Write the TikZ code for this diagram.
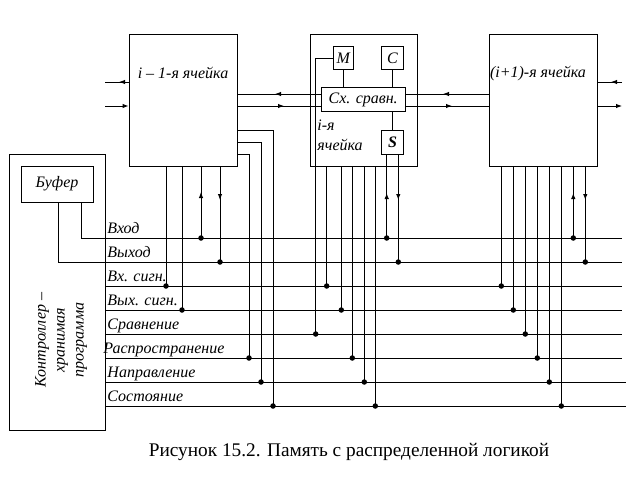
\documentclass[tikz,border=0pt]{standalone}
\usepackage{fontspec}
\setmainfont{Liberation Serif}
\usetikzlibrary{arrows.meta}
\begin{document}
\begin{tikzpicture}[x=1pt,y=-1pt, line width=0.9pt,
  box/.style={draw, rectangle, inner sep=0pt},
  lab/.style={font=\fontsize{16}{20}\selectfont\itshape, inner sep=0pt},
  dot/.style={circle, fill, inner sep=0pt, minimum size=5.5pt},
  tip/.style={-{Latex[length=6pt,width=4.5pt]}}
]
\useasboundingbox (0,0) rectangle (637,477);
% boxes
\node[box, minimum width=96pt, minimum height=276pt] (ctrl) at (57,292) {};
\node[box, lab, minimum width=72pt, minimum height=36pt] (buf) at (57,184) {Буфер};
\node[box, minimum width=108pt, minimum height=132pt] (c1) at (183,100) {};
\node[box, minimum width=107pt, minimum height=132pt] (c2) at (363.5,100) {};
\node[box, minimum width=108pt, minimum height=132pt] (c3) at (543,100) {};
\node[box, lab, minimum width=20pt, minimum height=22.6pt] (M) at (343.3,58) {M};
\node[box, lab, minimum width=21.6pt, minimum height=22.6pt] (C) at (392.5,58) {C};
\node[box, lab, minimum width=84.3pt, minimum height=24.4pt] (cmp) at (363.2,99.5) {Сх. сравн.};
\node[box, lab, minimum width=21.6pt, minimum height=23.3pt] (S) at (392.5,142.3) {\bfseries S};
% labels
\node[lab] (t1) at (183,73) {i – 1-я ячейка};
\node[lab] (t3) at (538,74) {(i+1)-я ячейка};
\node[lab, align=left, anchor=north west] (t2) at (317,119) {i-я\\ячейка};
\node[lab, rotate=90, align=center, font=\fontsize{16}{19}\selectfont\itshape] (ctext) at (61,340) {Контроллер –\\хранимая\\программа};
\node[font=\fontsize{19.3}{23}\selectfont] (cap) at (349,452) {Рисунок 15.2. Память с распределенной логикой};
% bus lines
\foreach \y/\e/\lx/\t in {238/622/107/Вход, 262/622/107/Выход, 286/622/107/Вх. сигн., 310/622/107/Вых. сигн., 334/622/107/Сравнение, 358/622/103/Распространение, 382/626/107/Направление, 406/626/107/Состояние}{
  \draw (ctrl.east |- 0,\y) -- (\e,\y);
  \node[lab, anchor=base west] at (\lx,\y-5) {\t};
}
% buffer connections
\draw (buf.south -| 81,0) |- (ctrl.east |- 0,238);
\draw (buf.south -| 58,0) |- (ctrl.east |- 0,262);
% cell i-1 taps
\foreach \x/\y in {166/286, 182/310, 201/238, 220/262}
  \draw (c1.south -| \x,0) -- (\x,\y) node[dot]{};
\foreach \yy/\x/\y in {154/249/358, 142/261/382, 130/273/406}
  \draw (c1.east |- 0,\yy) -| (\x,\y) node[dot]{};
\draw[tip] (201,238) -- (201,192);
\draw[tip] (220,166) -- (220,200);
% cell i taps
\draw (M.west) -| (315.7,334) node[dot]{};
\foreach \x/\y in {326.7/286, 341.3/310, 352.3/358, 364.3/382, 375.3/406}
  \draw (c2.south -| \x,0) -- (\x,\y) node[dot]{};
\draw (S.south -| 386.7,0) -- (386.7,238) node[dot]{};
\draw (S.south -| 398.3,0) -- (398.3,262) node[dot]{};
\draw[tip] (386.7,238) -- (386.7,193);
\draw[tip] (398.3,154) -- (398.3,200);
\draw (M.south) -- (M.south |- cmp.north);
\draw (C.south) -- (C.south |- cmp.north);
\draw (cmp.south -| S.north) -- (S.north);
% cell i+1 taps
\foreach \x/\y in {501.3/286, 513.3/310, 525.3/334, 537.3/358, 549.3/382, 561.3/406, 573.3/238, 585.3/262}
  \draw (c3.south -| \x,0) -- (\x,\y) node[dot]{};
\draw[tip] (573.3,238) -- (573.3,193);
\draw[tip] (585.3,166) -- (585.3,200);
% horizontal data links
\draw (ctrl.east |- 0,82) -- (c1.west |- 0,82);
\draw[tip] (c1.west |- 0,82) -- (119,82);
\draw[tip] (ctrl.east |- 0,106) -- (c1.west |- 0,106);
\draw (c1.east |- 0,94) -- (cmp.west |- 0,94);
\draw[tip] (cmp.west |- 0,94) -- (275,94);
\draw (c1.east |- 0,106) -- (cmp.west |- 0,106);
\draw[tip] (c1.east |- 0,106) -- (284,106);
\draw (cmp.east |- 0,94) -- (c3.west |- 0,94);
\draw[tip] (c3.west |- 0,94) -- (443,94);
\draw (cmp.east |- 0,106) -- (c3.west |- 0,106);
\draw[tip] (cmp.east |- 0,106) -- (452,106);
\draw (c3.east |- 0,82) -- (622,82);
\draw[tip] (622,82) -- (611,82);
\draw[tip] (c3.east |- 0,106) -- (622,106);
\end{tikzpicture}
\end{document}
